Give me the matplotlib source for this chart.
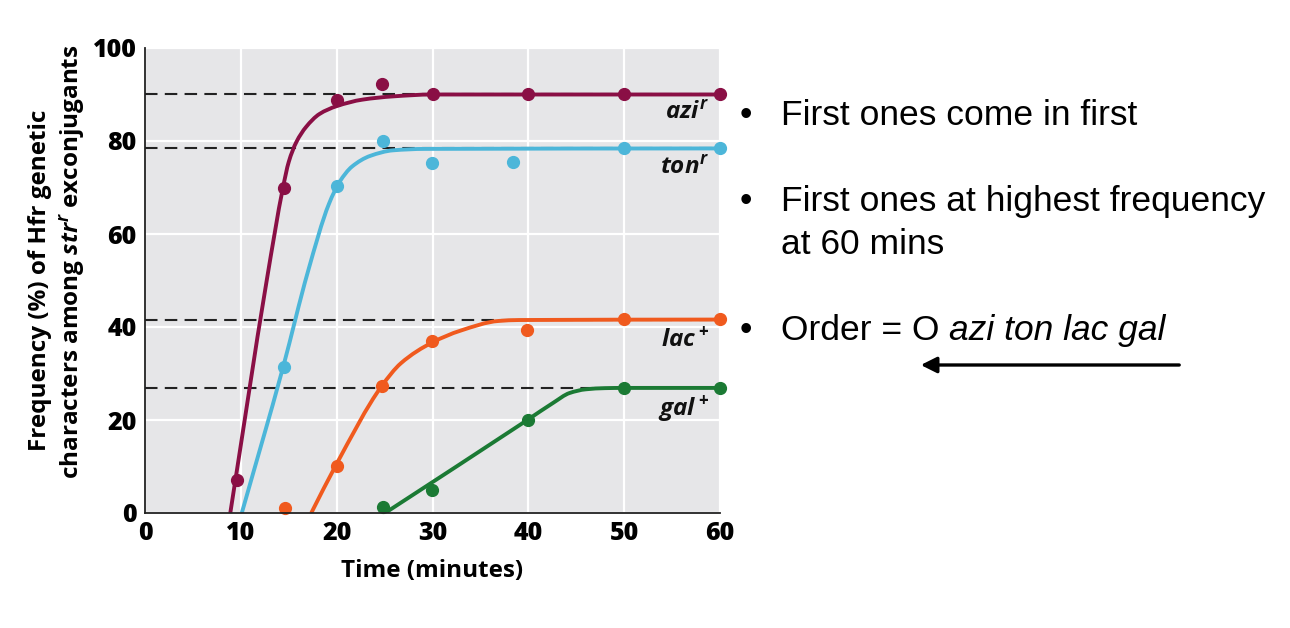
import matplotlib
matplotlib.use("Agg")
import matplotlib.pyplot as plt
from matplotlib.path import Path
from matplotlib.patches import PathPatch, FancyArrowPatch
import numpy as np

# ---------------- data ----------------
x_ticks = [0, 10, 20, 30, 40, 50, 60]
y_ticks = [0, 20, 40, 60, 80, 100]

azi_x = [9.6, 14.5, 20, 24.7, 30, 40, 50, 60]
azi_y = [7.0, 70.0, 88.8, 92.3, 90.1, 90.1, 90.1, 90.1]
ton_x = [14.5, 20, 24.8, 29.9, 38.4, 50, 60]
ton_y = [31.4, 70.3, 80.0, 75.3, 75.5, 78.5, 78.5]
lac_x = [14.6, 20, 24.7, 29.9, 39.9, 50, 60]
lac_y = [1.1, 10.1, 27.3, 37.0, 39.4, 41.7, 41.7]
gal_x = [24.8, 29.9, 40, 50, 60]
gal_y = [1.2, 5.0, 19.9, 26.9, 26.9]

# fitted curves (knots)
azi_cx = [8.9, 12.7, 14.4, 15.0, 15.8, 16.8, 18.2, 20, 22.7, 25.9, 30, 60]
azi_cy = [0, 50, 70, 75.5, 79.8, 83.0, 85.8, 87.5, 88.9, 89.6, 90.0, 90.0]
ton_cx = [10.1, 14.4, 17.0, 19.2, 20.3, 21.6, 23.5, 25.9, 29.2, 60]
ton_cy = [0, 31.3, 51.9, 66.5, 71.2, 74.5, 76.8, 78.0, 78.3, 78.4]
lac_cx = [17.35, 19.9, 24.7, 26.7, 30, 32.9, 36.9, 39, 60]
lac_cy = [0, 10.2, 27.3, 32.2, 36.7, 39.2, 41.3, 41.5, 41.6]
gal_cx = [25.2, 39.9, 42.6, 44.3, 46.0, 48.0, 50, 60]
gal_cy = [0.2, 20.0, 23.7, 25.8, 26.6, 26.85, 26.9, 26.9]

plateaus = [90.0, 78.4, 41.6, 26.9]

labels = [r"$azi^r$", r"$ton^r$", r"$lac^+$", r"$gal^+$"]
label_y = [86.0, 74.2, 37.2, 22.2]

colors = ["#8a0f45", "#4cb6d9", "#f05a1e", "#1b7a34"]

note_lines = ["First ones come in first",
              "First ones at highest frequency",
              "at 60 mins",
              "Order = O "]
note_bullet = [True, True, False, True]
order_italic = "azi ton lac gal"

# ---------------- style ----------------
plt.rcParams['font.family'] = ['Open Sans', 'DejaVu Sans']
plt.rcParams['mathtext.fontset'] = 'custom'
plt.rcParams['mathtext.it'] = 'Open Sans:italic:bold'
plt.rcParams['mathtext.rm'] = 'Open Sans:bold'
plt.rcParams['mathtext.bf'] = 'Open Sans:bold'

W, H = 1290, 628
fig = plt.figure(figsize=(W / 100, H / 100), dpi=100)
ax = fig.add_axes([145 / W, 1 - 513 / H, 575 / W, 465 / H])
ax.set_facecolor("#e6e6e8")
ax.set_xlim(0, 60)
ax.set_ylim(0, 100)
ax.set_xticks(x_ticks)
ax.set_yticks(y_ticks)
ax.tick_params(length=0, labelsize=18, pad=6)
for lab in ax.get_xticklabels() + ax.get_yticklabels():
    lab.set_fontweight('heavy')
ax.grid(True, color="white", lw=1.6)
ax.set_axisbelow(True)
for s in ["top", "right"]:
    ax.spines[s].set_visible(False)
for s in ["left", "bottom"]:
    ax.spines[s].set_linewidth(1.3)
    ax.spines[s].set_color("#222222")
    ax.spines[s].set_zorder(5)

for p in plateaus:
    ax.plot([0, 60], [p, p], color="#222222", lw=1.5, dashes=(6, 3.5), zorder=2)


def smooth_path(xs, ys):
    x = np.asarray(xs, float)
    y = np.asarray(ys, float)
    h = np.diff(x)
    d = np.diff(y) / h
    n = len(x)
    m = np.zeros(n)
    m[0], m[-1] = d[0], d[-1]
    for k in range(1, n - 1):
        if d[k - 1] * d[k] <= 0:
            m[k] = 0.0
        else:
            w1 = 2 * h[k] + h[k - 1]
            w2 = h[k] + 2 * h[k - 1]
            m[k] = (w1 + w2) / (w1 / d[k - 1] + w2 / d[k])
    verts = [(x[0], y[0])]
    codes = [Path.MOVETO]
    for k in range(n - 1):
        verts += [(x[k] + h[k] / 3, y[k] + m[k] * h[k] / 3),
                  (x[k + 1] - h[k] / 3, y[k + 1] - m[k + 1] * h[k] / 3),
                  (x[k + 1], y[k + 1])]
        codes += [Path.CURVE4] * 3
    return Path(verts, codes)


curves = [(azi_cx, azi_cy), (ton_cx, ton_cy), (lac_cx, lac_cy), (gal_cx, gal_cy)]
points = [(azi_x, azi_y), (ton_x, ton_y), (lac_x, lac_y), (gal_x, gal_y)]
for (cx, cy), (px, py), c in zip(curves, points, colors):
    patch = PathPatch(smooth_path(cx, cy), facecolor="none", edgecolor=c,
                      lw=2.8, capstyle="butt", zorder=3)
    ax.add_patch(patch)
    ax.plot(px, py, "o", color=c, ms=8.5, zorder=4, clip_on=False)

for lab, ly in zip(labels, label_y):
    ax.text(58.9, ly, lab, ha="right", va="center", fontsize=17.5, color="#111111")

ax.set_xlabel("Time (minutes)", fontsize=17.5, fontweight="bold", labelpad=9)

fig.text(40 / W, 1 - 280 / H, "Frequency (%) of Hfr genetic", rotation=90,
         ha="center", va="center", fontsize=17.5, fontweight="bold")
fig.text(73 / W, 1 - 262 / H, r"characters among $str^r$ exconjugants", rotation=90,
         ha="center", va="center", fontsize=17.5, fontweight="bold")

# ---------------- right-hand notes ----------------
tf = dict(family=["Liberation Sans", "DejaVu Sans"], fontsize=25.5, color="black")
line_base = [125, 211, 254, 340]
t_last = None
for txt, bul, by in zip(note_lines, note_bullet, line_base):
    if bul:
        fig.text(746 / W, 1 - by / H, "\u2022", ha="center", va="baseline", **tf)
    t_last = fig.text(781 / W, 1 - by / H, txt, ha="left", va="baseline", **tf)
fig.canvas.draw()
ax.annotate(order_italic, xy=(1, 0), xycoords=t_last, xytext=(0, 0),
            textcoords="offset points", ha="left", va="bottom",
            fontstyle="italic", annotation_clip=False, **tf)

fig.patches.append(FancyArrowPatch(
    (1182 / W, 1 - 365 / H), (918 / W, 1 - 365 / H), transform=fig.transFigure,
    arrowstyle="-|>,head_length=8,head_width=4", mutation_scale=1.2,
    color="black", lw=2.4))

fig.savefig("out.png", dpi=100)
